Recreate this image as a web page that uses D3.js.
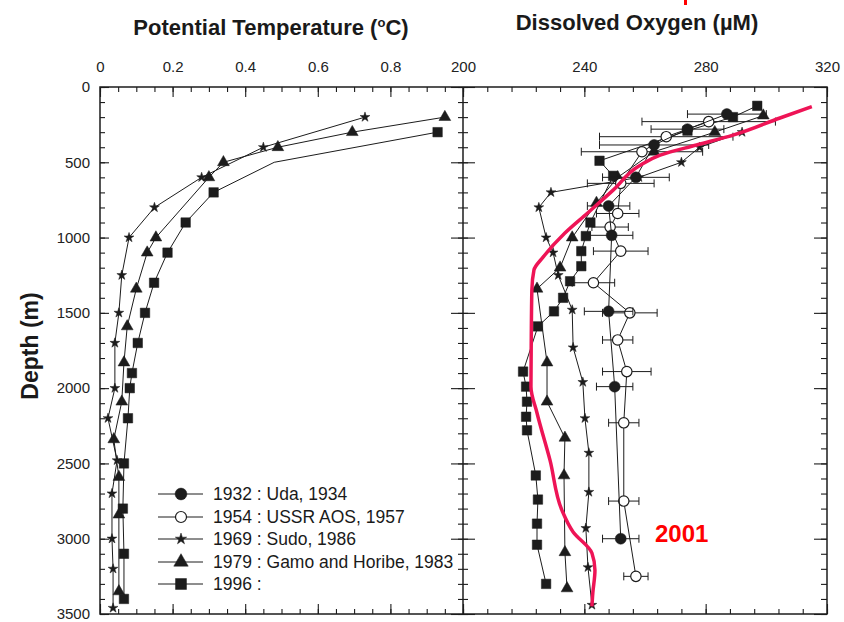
<!DOCTYPE html>
<html><head><meta charset="utf-8">
<script src="https://cdn.jsdelivr.net/npm/d3@7"></script>
<style>body{margin:0;background:#fff;} svg{display:block;font-family:"Liberation Sans",Arial,sans-serif;}</style>
</head><body><svg id="c" width="844" height="622"></svg>
<script>
// ---------- axis ticks / labels ----------
const tempTickLabels = [0, 0.2, 0.4, 0.6, 0.8];
const oxyTickLabels = [200, 240, 280, 320];
const depthTickLabels = [0, 500, 1000, 1500, 2000, 2500, 3000, 3500];
const legendLabels = ["1932 : Uda, 1934", "1954 : USSR AOS, 1957", "1969 : Sudo, 1986", "1979 : Gamo and Horibe, 1983", "1996 :"];

// ---------- potential temperature (°C) ----------
const t1969Depth = [200, 400, 600, 800, 1000, 1250, 1500, 1700, 2000, 2200, 2480, 2700, 3000, 3200, 3460];
const t1969Temp  = [0.73, 0.45, 0.28, 0.15, 0.08, 0.06, 0.052, 0.041, 0.041, 0.022, 0.047, 0.033, 0.033, 0.036, 0.036];
const t1979Depth = [200, 300, 400, 500, 600, 1000, 1100, 1340, 1590, 1830, 2090, 2340, 2590, 2840, 3350];
const t1979Temp  = [0.95, 0.695, 0.49, 0.34, 0.30, 0.154, 0.13, 0.10, 0.075, 0.066, 0.06, 0.038, 0.052, 0.052, 0.052];
const t1996Depth = [300, 500, 700, 900, 1100, 1300, 1500, 1700, 1900, 2000, 2200, 2500, 2800, 3100, 3400];
const t1996Temp  = [0.93, 0.48, 0.313, 0.236, 0.186, 0.149, 0.124, 0.104, 0.088, 0.082, 0.077, 0.066, 0.063, 0.066, 0.066];
const t1996Unmarked = [500];

// ---------- dissolved oxygen (µM) ----------
const o1932Depth = [180, 280, 385, 600, 790, 985, 1490, 1990, 3000];
const o1932Oxy   = [287, 274, 263, 257, 248, 249, 248, 250, 252];
const o1932Err   = [13, 12, 18, 11, 7, 7, 8, 6, 6];
const o1954Depth = [230, 330, 430, 640, 840, 930, 1090, 1300, 1500, 1680, 1890, 2230, 2750, 3250];
const o1954Oxy   = [281, 267, 259, 252, 251, 248.5, 252, 243, 255, 251, 254, 253, 253, 257];
const o1954Err   = [22, 22, 20, 11, 7, 6, 9, 7, 9, 5, 8, 5, 5, 4];
const o1969Depth = [300, 400, 500, 600, 700, 800, 1000, 1100, 1250, 1480, 1730, 1960, 2200, 2430, 2690, 2930, 3190, 3440];
const o1969Oxy   = [292, 278, 272, 258, 229, 225, 227.4, 229.7, 231.4, 236, 236.3, 239.5, 240.2, 241.5, 241.5, 240.5, 241.2, 242.5];
const o1979Depth = [190, 300, 430, 600, 770, 1000, 1200, 1340, 1830, 2090, 2330, 2580, 3090, 3330];
const o1979Oxy   = [299, 283, 263, 251, 244, 236, 232, 224.4, 227.7, 227.7, 233.6, 233.3, 233.6, 234.3];
const o1996Depth = [125, 200, 290, 490, 590, 900, 990, 1090, 1190, 1290, 1400, 1490, 1590, 1890, 1990, 2090, 2190, 2280, 2580, 2740, 2900, 3040, 3300];
const o1996Oxy   = [297, 289, 274, 245, 249.5, 242, 240.5, 239, 239, 235.3, 233, 230, 224.7, 219.8, 220.8, 221.1, 220.8, 221.1, 224, 224.7, 224.4, 224.4, 227.4];
const o2001Depth = [130, 206, 320, 385, 452, 525, 685, 840, 970, 1130, 1215, 1350, 1680, 1990, 2165, 2480, 2810, 2955, 3095, 3210, 3360, 3450];
const o2001Oxy   = [315, 304.5, 289, 277, 265, 258, 249.5, 240.9, 233.6, 226.4, 223.4, 222.7, 222.5, 222.4, 224.4, 228.7, 232.6, 236.3, 242.5, 243.5, 242.8, 242.5];
const label2001 = "2001";

// ---------- drawing ----------
const svg = d3.select("#c");
const ink = "#1c1c1c";
const y  = d3.scaleLinear().domain([0, 3500]).range([87, 614]);
const xT = d3.scaleLinear().domain([0, 1]).range([100, 463]);
const xO = d3.scaleLinear().domain([200, 320]).range([463, 827]);

const zip = (a, b, c) => a.map((v, i) => ({d: v, v: b[i], e: c ? c[i] : 0}));

function styleAxis(g) {
  g.select(".domain").remove();
  g.selectAll(".tick line").attr("stroke", ink).attr("stroke-width", 1.1);
  g.selectAll(".tick text").attr("fill", "#222").style("font-size", "15px").style("font-family", '"Liberation Sans", Arial, sans-serif');
}
const tMinor = d3.range(0, 1.0001, 0.05);
const tMajor = d3.range(0, 1.0001, 0.2);
const oMinor = d3.range(200, 320.01, 8);
const oMajor = oxyTickLabels;
const dMinor = d3.range(0, 3501, 100);
const dMajor = depthTickLabels;

// top axes
svg.append("g").attr("transform", `translate(0,${y(0)})`)
  .call(d3.axisTop(xT).tickValues(tMinor).tickSize(-5).tickFormat("")).call(styleAxis);
svg.append("g").attr("transform", `translate(0,${y(0)})`)
  .call(d3.axisTop(xT).tickValues(tMajor).tickSize(-10).tickFormat("")).call(styleAxis);
svg.append("g").attr("transform", `translate(0,${y(0)})`)
  .call(d3.axisTop(xT).tickValues(tempTickLabels).tickSize(0).tickPadding(15).tickFormat(d => d === 0 ? "0" : d3.format(".1f")(d))).call(styleAxis);
svg.append("g").attr("transform", `translate(0,${y(0)})`)
  .call(d3.axisTop(xO).tickValues(oMinor).tickSize(-5).tickFormat("")).call(styleAxis);
svg.append("g").attr("transform", `translate(0,${y(0)})`)
  .call(d3.axisTop(xO).tickValues(oMajor).tickSize(-10).tickPadding(15).tickFormat(d3.format("d"))).call(styleAxis);
// bottom axes
[[xT, tMinor, -5], [xT, tMajor, -10], [xO, oMinor, -5], [xO, oMajor, -10]].forEach(([sc, vals, s]) => {
  svg.append("g").attr("transform", `translate(0,${y(3500)})`)
    .call(d3.axisBottom(sc).tickValues(vals).tickSize(s).tickFormat("")).call(styleAxis);
});
// left axis
svg.append("g").attr("transform", `translate(${xT(0)},0)`)
  .call(d3.axisLeft(y).tickValues(dMinor).tickSize(-5).tickFormat("")).call(styleAxis);
svg.append("g").attr("transform", `translate(${xT(0)},0)`)
  .call(d3.axisLeft(y).tickValues(dMajor).tickSize(-9).tickPadding(10).tickFormat(d3.format("d"))).call(styleAxis);
// middle axis (crossing ticks)
[[5, dMinor], [12, dMajor]].forEach(([s, vals]) => {
  svg.append("g").attr("transform", `translate(${xO(200)},0)`)
    .call(d3.axisLeft(y).tickValues(vals).tickSize(s).tickFormat("")).call(styleAxis);
  svg.append("g").attr("transform", `translate(${xO(200)},0)`)
    .call(d3.axisRight(y).tickValues(vals).tickSize(s).tickFormat("")).call(styleAxis);
});
// right axis
[[-6, dMinor], [-13, dMajor]].forEach(([s, vals]) => {
  svg.append("g").attr("transform", `translate(${xO(320)},0)`)
    .call(d3.axisRight(y).tickValues(vals).tickSize(s).tickFormat("")).call(styleAxis);
});

// frame
svg.append("rect").attr("x", xT(0)).attr("y", y(0)).attr("width", xO(320) - xT(0)).attr("height", y(3500) - y(0))
  .attr("fill", "none").attr("stroke", ink).attr("stroke-width", 1.5);
svg.append("line").attr("x1", xO(200)).attr("x2", xO(200)).attr("y1", y(0)).attr("y2", y(3500))
  .attr("stroke", ink).attr("stroke-width", 1.5);

// titles
const t1 = svg.append("text").attr("x", 271).attr("y", 35).attr("text-anchor", "middle")
  .style("font-size", "22px").style("font-weight", "bold").attr("fill", "#1a1a1a").text("Potential Temperature (");
t1.append("tspan").text("o").style("font-size", "13px").attr("dy", "-8");
t1.append("tspan").text("C)").attr("dy", "8");
svg.append("text").attr("x", 637).attr("y", 30).attr("text-anchor", "middle")
  .style("font-size", "22px").style("font-weight", "bold").attr("fill", "#1a1a1a").text("Dissolved Oxygen (\u00b5M)");
svg.append("text").attr("transform", "translate(38,346) rotate(-90)").attr("text-anchor", "middle")
  .style("font-size", "23px").style("font-weight", "bold").attr("fill", "#1a1a1a").text("Depth (m)");

// symbols
const sym = {
  circle: d3.symbol().type(d3.symbolCircle).size(95),
  open: d3.symbol().type(d3.symbolCircle).size(85),
  star: d3.symbol().type(d3.symbolStar).size(30),
  tri: d3.symbol().type(d3.symbolTriangle).size(60),
  sq: d3.symbol().type(d3.symbolSquare).size(90)
};

function drawSeries(data, xs, symKey, opts = {}) {
  const g = svg.append("g");
  g.append("path").datum(data)
    .attr("d", d3.line().x(p => xs(p.v)).y(p => y(p.d)))
    .attr("fill", "none").attr("stroke", ink).attr("stroke-width", 1);
  if (opts.err) {
    const eb = g.selectAll(".eb").data(data).join("g");
    eb.append("line").attr("x1", p => xs(p.v - p.e)).attr("x2", p => xs(p.v + p.e))
      .attr("y1", p => y(p.d)).attr("y2", p => y(p.d)).attr("stroke", ink).attr("stroke-width", 1);
    [-1, 1].forEach(sg => {
      eb.append("line").attr("x1", p => xs(p.v + sg * p.e)).attr("x2", p => xs(p.v + sg * p.e))
        .attr("y1", p => y(p.d) - 4).attr("y2", p => y(p.d) + 4).attr("stroke", ink).attr("stroke-width", 1);
    });
  }
  const skip = opts.skip || [];
  g.selectAll(".m").data(data.filter(p => !skip.includes(p.d))).join("path")
    .attr("transform", p => `translate(${xs(p.v)},${y(p.d)})`)
    .attr("d", sym[symKey])
    .attr("fill", symKey === "open" ? "#fff" : ink)
    .attr("stroke", ink).attr("stroke-width", symKey === "open" ? 1.2 : 0.5);
}

// temperature panel
drawSeries(zip(t1969Depth, t1969Temp), xT, "star");
drawSeries(zip(t1979Depth, t1979Temp), xT, "tri");
drawSeries(zip(t1996Depth, t1996Temp), xT, "sq", {skip: t1996Unmarked});

// oxygen panel
drawSeries(zip(o1969Depth, o1969Oxy), xO, "star");
drawSeries(zip(o1979Depth, o1979Oxy), xO, "tri");
drawSeries(zip(o1996Depth, o1996Oxy), xO, "sq");
drawSeries(zip(o1954Depth, o1954Oxy, o1954Err), xO, "open", {err: true});
drawSeries(zip(o1932Depth, o1932Oxy, o1932Err), xO, "circle", {err: true});

// 2001 curve
svg.append("path").datum(zip(o2001Depth, o2001Oxy))
  .attr("d", d3.line().x(p => xO(p.v)).y(p => y(p.d)).curve(d3.curveMonotoneY))
  .attr("fill", "none").attr("stroke", "#ee1456").attr("stroke-width", 3.5).attr("stroke-linejoin", "round");
svg.append("text").attr("x", 655).attr("y", 542).style("font-size", "24px").style("font-weight", "bold")
  .attr("fill", "#ff0000").text(label2001);
svg.append("rect").attr("x", 684).attr("y", 0).attr("width", 3).attr("height", 5).attr("fill", "#ff0000");

// legend
const legSyms = ["circle", "open", "star", "tri", "sq"];
const legY = [494, 517, 539, 562, 584];
legendLabels.forEach((lab, i) => {
  const g = svg.append("g").attr("transform", `translate(0,${legY[i]})`);
  g.append("line").attr("x1", 158).attr("x2", 203).attr("y1", 0).attr("y2", 0).attr("stroke", ink).attr("stroke-width", 1);
  g.append("path").attr("transform", "translate(181,0)")
    .attr("d", d3.symbol().type(sym[legSyms[i]].type()).size([110, 95, 40, 90, 120][i]))
    .attr("fill", i === 1 ? "#fff" : ink).attr("stroke", ink).attr("stroke-width", i === 1 ? 1.2 : 0.5);
  g.append("text").attr("x", 213).attr("y", 6).style("font-size", "17.5px").attr("fill", "#1a1a1a").text(lab);
});
</script></body></html>
